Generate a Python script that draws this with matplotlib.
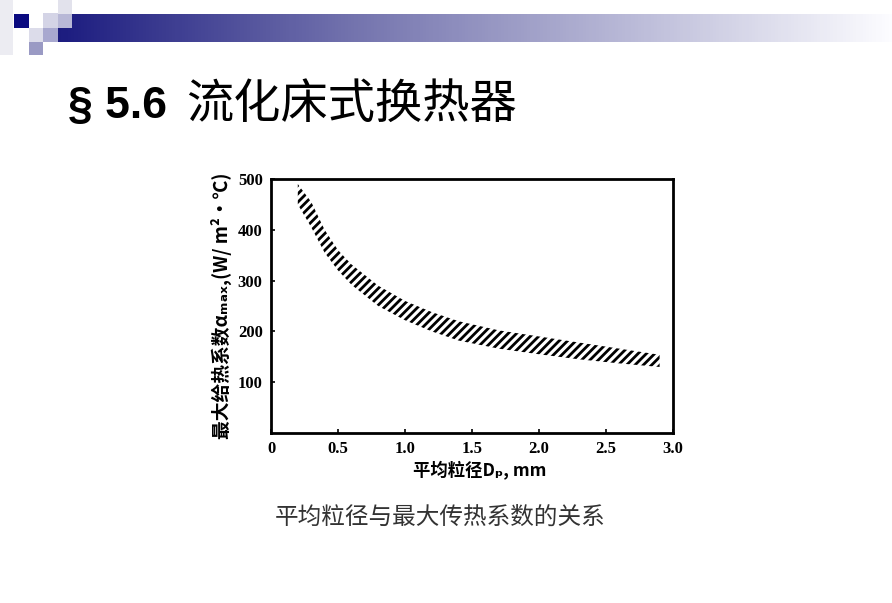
import matplotlib
matplotlib.use('Agg')
import matplotlib.pyplot as plt
import numpy as np

# data
dp = [0.2, 0.3, 0.4, 0.5, 0.6, 0.8, 1.0, 1.2, 1.4, 1.7, 2.0, 2.3, 2.6, 2.9]
alpha_upper = [490, 455, 400, 360, 332, 290, 260, 238, 220, 202, 190, 178, 166, 154]
alpha_lower = [450, 405, 355, 320, 292, 250, 222, 200, 182, 166, 155, 145, 137, 130]
xticks = [0, 0.5, 1.0, 1.5, 2.0, 2.5, 3.0]
xticklabels = ['0', '0.5', '1.0', '1.5', '2.0', '2.5', '3.0']
yticks = [100, 200, 300, 400, 500]

title_num = '§ 5.6'
title_cn = '流化床式换热器'
caption = '平均粒径与最大传热系数的关系'
xlabel = '平均粒径Dₚ, mm'
ylabel = '最大给热系数αₘₐₓ,(W/ m²·℃)'

cjk = ['Noto Sans CJK SC', 'DejaVu Sans']
plt.rcParams['hatch.linewidth'] = 2.0

fig = plt.figure(figsize=(8.92, 6.03), dpi=100)

# slide decoration (pixel coordinates)
deco = fig.add_axes([0, 0, 1, 1])
deco.set_xlim(0, 892)
deco.set_ylim(603, 0)
deco.axis('off')
grad = np.linspace(0, 1, 256)
c0 = np.array([0.11, 0.11, 0.50])
c1 = np.array([0.45, 0.45, 0.68])
c2 = np.array([0.99, 0.99, 1.0])
cols = np.where(grad[:, None] < 0.35,
                c0 + (c1 - c0) * (grad[:, None] / 0.35),
                c1 + (c2 - c1) * ((grad[:, None] - 0.35) / 0.65))
deco.imshow(cols[None, :, :], extent=(58, 892, 42, 14), aspect='auto', zorder=1)
squares = [
    (0, 0, 13, 55, '#ececf2'),
    (14, 14, 15, 14, '#0a0a80'),
    (43, 13, 15, 15, '#d4d4e6'),
    (58, 0, 14, 14, '#e2e2ec'),
    (58, 14, 14, 14, '#b8b8d6'),
    (29, 28, 14, 14, '#dcdcea'),
    (43, 28, 15, 14, '#a8a8cf'),
    (29, 42, 14, 13, '#9a9ac4'),
]
for sx, sy, sw, sh, sc in squares:
    deco.add_patch(plt.Rectangle((sx, sy), sw, sh, color=sc, lw=0, zorder=2))

fig.text(68 / 892, 1 - 107 / 603, title_num, fontsize=32, fontweight='bold',
         family='Liberation Sans', va='center', ha='left')
fig.text(186 / 892, 1 - 105 / 603, title_cn, fontsize=34, family=cjk,
         va='center', ha='left')
fig.text(440 / 892, 1 - 517 / 603, caption, fontsize=17, family=cjk,
         color='#333333', va='center', ha='center')

ax = fig.add_axes([271 / 892, 1 - 433 / 603, 402 / 892, 254 / 603])
ax.fill_between(dp, alpha_lower, alpha_upper, facecolor='none', edgecolor='black',
                hatch='////', linewidth=0)
ax.set_xlim(0, 3.0)
ax.set_ylim(0, 500)
ax.set_xticks(xticks)
ax.set_xticklabels(xticklabels)
ax.set_yticks(yticks)
for s in ax.spines.values():
    s.set_linewidth(2)
ax.tick_params(direction='in', length=3, width=1.2, pad=6)
for lab in ax.get_xticklabels() + ax.get_yticklabels():
    lab.set_family('Liberation Serif')
    lab.set_fontweight('bold')
    lab.set_fontsize(12)
ax.set_xlabel(xlabel, family=cjk, fontsize=12.5, fontweight='bold', labelpad=1)
ax.xaxis.set_label_coords(0.52, -0.11)
ax.set_ylabel(ylabel, family=cjk, fontsize=13.5, fontweight='bold', labelpad=4)

fig.savefig('out.png', dpi=100)
